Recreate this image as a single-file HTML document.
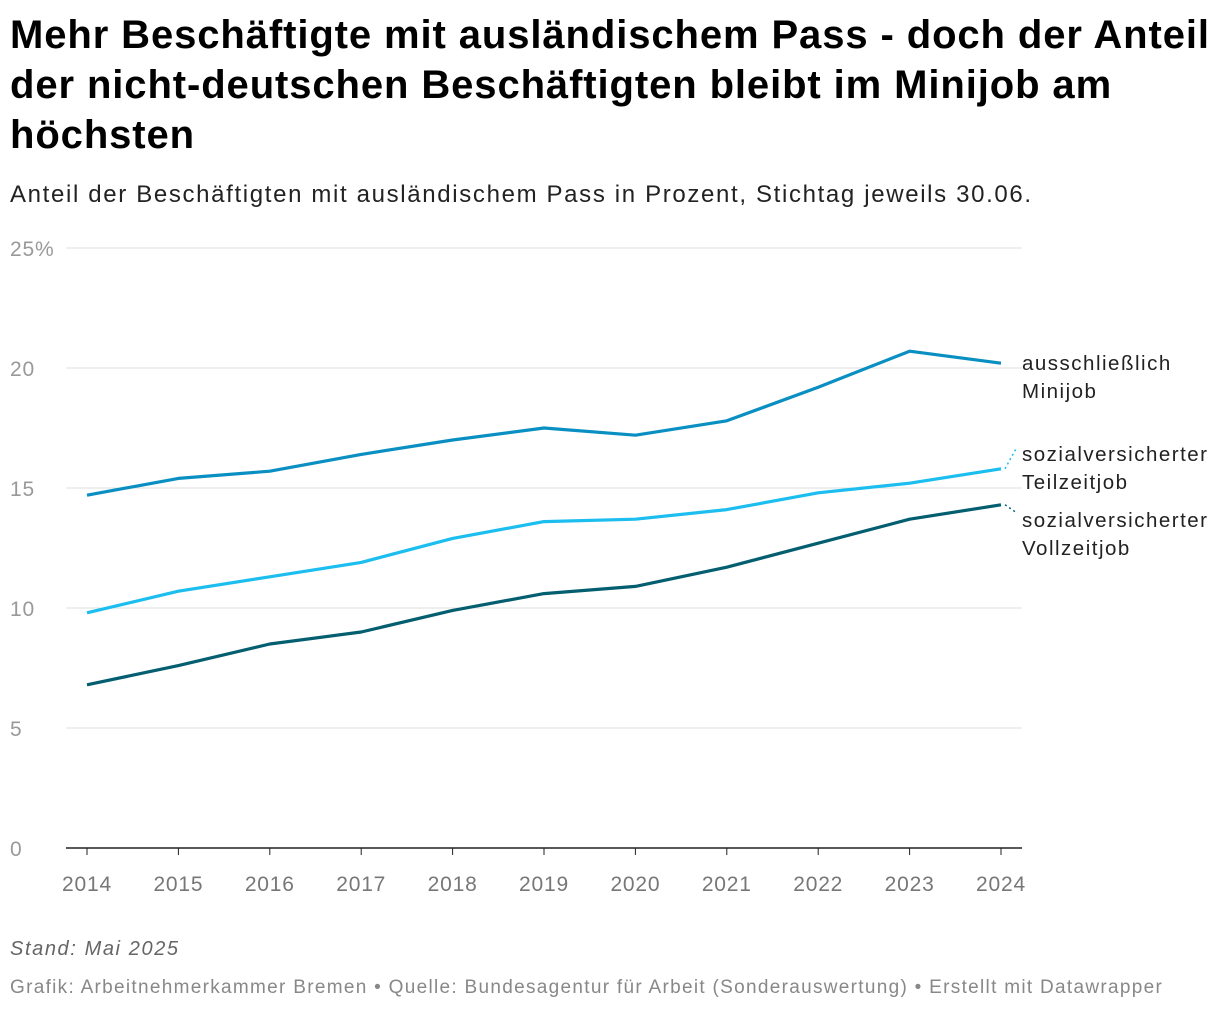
<!DOCTYPE html>
<html><head><meta charset="utf-8"><style>
body{margin:0;background:#fff;font-family:"Liberation Sans",sans-serif;}
#wrap{position:relative;width:1220px;height:1012px;overflow:hidden}
h1{position:absolute;left:10px;top:10px;margin:0;font-size:40px;line-height:50px;font-weight:bold;color:#000;white-space:nowrap;letter-spacing:0.9px}
.sub{position:absolute;left:10px;top:181px;font-size:24px;color:#222;letter-spacing:1.65px;white-space:nowrap}
.foot{position:absolute;left:10px;font-size:19px;color:#888;letter-spacing:1.3px;white-space:nowrap}
</style></head><body>
<div id="wrap">
<h1>Mehr Beschäftigte mit ausländischem Pass - doch der Anteil<br>der nicht-deutschen Beschäftigten bleibt im Minijob am<br>höchsten</h1>
<div class="sub">Anteil der Beschäftigten mit ausländischem Pass in Prozent, Stichtag jeweils 30.06.</div>
<svg id="chart" width="1220" height="1012" style="position:absolute;left:0;top:0"></svg>
<div class="foot" style="top:938px;font-style:italic;color:#666;font-size:20px;letter-spacing:1.6px">Stand: Mai 2025</div>
<div class="foot" style="top:977px">Grafik: Arbeitnehmerkammer Bremen • Quelle: Bundesagentur für Arbeit (Sonderauswertung) • Erstellt mit Datawrapper</div>
</div>
<script>
const years=[2014,2015,2016,2017,2018,2019,2020,2021,2022,2023,2024];
const minijob=[14.7,15.4,15.7,16.4,17.0,17.5,17.2,17.8,19.2,20.7,20.2];
const teilzeit=[9.8,10.7,11.3,11.9,12.9,13.6,13.7,14.1,14.8,15.2,15.8];
const vollzeit=[6.8,7.6,8.5,9.0,9.9,10.6,10.9,11.7,12.7,13.7,14.3];
const yTicks=[0,5,10,15,20,25];
const yTickLabels=["0","5","10","15","20","25%"];
const NS="http://www.w3.org/2000/svg";
const svg=document.getElementById('chart');
const x=i=>87+(1001-87)*i/(years.length-1);
const y=v=>848-v*24;
function mk(t,a){const e=document.createElementNS(NS,t);for(const k in a)e.setAttribute(k,a[k]);svg.appendChild(e);return e;}
yTicks.forEach((t,i)=>{
  if(t>0){const g=mk('line',{x1:66,x2:1022,y1:y(t),y2:y(t),stroke:'#dedede','stroke-width':1});
  
  }
  const l=mk('text',{x:10,y:y(t)+8,'font-size':21,fill:'#999','letter-spacing':0.8,'font-family':'Liberation Sans, sans-serif'});
  l.textContent=yTickLabels[i];
  
  
});
const ax=mk('line',{x1:66,x2:1022,y1:848,y2:848,stroke:'#222','stroke-width':1.5});


years.forEach((yr,i)=>{
  const tk=mk('line',{x1:x(i),x2:x(i),y1:848,y2:855,stroke:'#222','stroke-width':1});
  
  
  const l=mk('text',{x:x(i),y:891,'font-size':21,fill:'#777','letter-spacing':0.8,'text-anchor':'middle','font-family':'Liberation Sans, sans-serif'});
  l.textContent=yr;
  
  
});
const series=[
 {d:minijob,c:'#0a8fc2',n:'minijob',lab:['ausschließlich','Minijob'],ly:370},
 {d:teilzeit,c:'#1cbdef',n:'teilzeitjob',lab:['sozialversicherter','Teilzeitjob'],ly:461},
 {d:vollzeit,c:'#035e70',n:'vollzeitjob',lab:['sozialversicherter','Vollzeitjob'],ly:527}
];
series.forEach(s=>{
  const p=mk('polyline',{points:s.d.map((v,i)=>x(i)+','+y(v)).join(' '),fill:'none',stroke:s.c,'stroke-width':3.2,'stroke-linejoin':'round'});
  
  
  const last=y(s.d[s.d.length-1]);
  if(Math.abs(last-(s.ly-6))>10){
    const c=mk('line',{x1:x(10)+4,y1:last,x2:1017,y2:s.ly-14,stroke:s.c,'stroke-width':1.5,'stroke-dasharray':'2,3'});
    
    
  }
  const t=mk('text',{x:1022,y:s.ly,'font-size':20.5,fill:'#222','letter-spacing':1.5,'font-family':'Liberation Sans, sans-serif'});
  
  
  s.lab.forEach((ln,k)=>{const ts=document.createElementNS(NS,'tspan');ts.setAttribute('x',1022);ts.setAttribute('dy',k?28:0);ts.textContent=ln;t.appendChild(ts);});
});
</script>
</body></html>
